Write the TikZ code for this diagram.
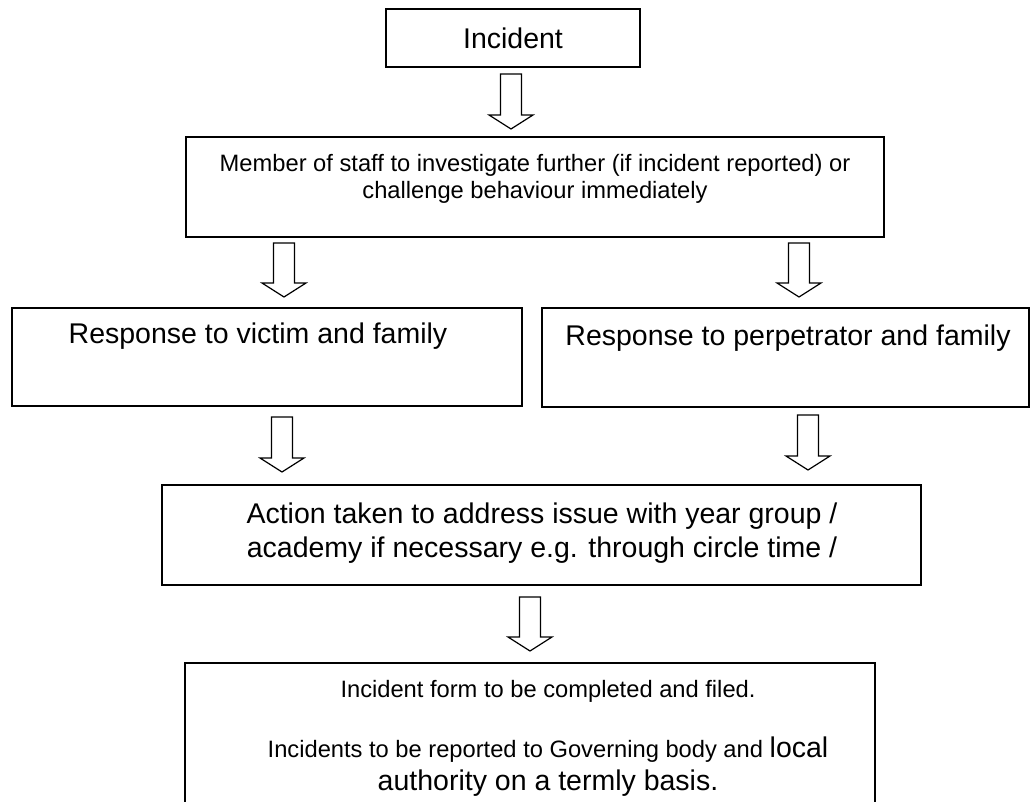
\documentclass[tikz,border=0pt]{standalone}
\usepackage{fontspec}
\setmainfont{Liberation Sans}
\usetikzlibrary{calc}
\tikzset{
 box/.style={draw=black, line width=1.5pt, inner sep=0pt, outer sep=0pt, anchor=north west},
 bigtxt/.style={font=\fontsize{28.5}{33}\selectfont, inner sep=0pt, anchor=base},
 smalltxt/.style={font=\fontsize{23.7}{27}\selectfont, inner sep=0pt, anchor=base},
 arrowline/.style={draw=black, line width=1.2pt, line join=miter, fill=white}
}
\newcommand\blockarrow[2]{\path[arrowline] let \p1=(#1), \p2=(#2) in (\x1-10.5pt,\y1) -- (\x1+10.5pt,\y1) -- (\x1+10.5pt,\y2+14pt) -- (\x1+22pt,\y2+14pt) -- (\x1,\y2) -- (\x1-22pt,\y2+14pt) -- (\x1-10.5pt,\y2+14pt) -- cycle;}
\begin{document}
\begin{tikzpicture}[x=1pt,y=-1pt]
\useasboundingbox (0,0) rectangle (1030,802);
\fill[white] (0,0) rectangle (1030,802);
\clip (0,0) rectangle (1030,802);
% boxes
\node[box, minimum width=254pt, minimum height=58pt] (b1) at (386,9) {};
\node[box, minimum width=698pt, minimum height=100pt] (b2) at (186,137) {};
\node[box, minimum width=510pt, minimum height=98pt] (b3) at (12,308) {};
\node[box, minimum width=487pt, minimum height=99pt] (b4) at (542,308) {};
\node[box, minimum width=759pt, minimum height=100pt] (b5) at (162,485) {};
\node[box, minimum width=690pt, minimum height=170pt] (b6) at (185,663) {};
% texts
\node[bigtxt] (t1) at (513,49) {Incident};
\node[smalltxt] (t2a) at (535,172) {Member of staff to investigate further (if incident reported) or};
\node[smalltxt] (t2b) at (535,199) {challenge behaviour immediately};
\node[bigtxt] (t3) at (258,343) {Response to victim and family};
\node[bigtxt] (t4) at (788,345) {Response to perpetrator and family};
\node[bigtxt] (t5a) at (542,523) {Action taken to address issue with year group /};
\node[bigtxt] (t5b) at (542,557) {academy if necessary e.g. through circle time /};
\node[smalltxt] (t6a) at (548,697) {Incident form to be completed and filed.};
\node[smalltxt] (t6b) at (548,757) {Incidents to be reported to Governing body and {\fontsize{28.5}{33}\selectfont local}};
\node[bigtxt] (t6c) at (548,790) {authority on a termly basis.};
% arrow end points
\coordinate (a1s) at (511,74);  \coordinate (a1e) at (511,129);
\coordinate (a2ls) at (284,243); \coordinate (a2le) at (284,297);
\coordinate (a2rs) at (799,243); \coordinate (a2re) at (799,297);
\coordinate (a3ls) at (282,417); \coordinate (a3le) at (282,472);
\coordinate (a3rs) at (808,415); \coordinate (a3re) at (808,470);
\coordinate (a4s) at (530,597);  \coordinate (a4e) at (530,651);
\blockarrow{a1s}{a1e}
\blockarrow{a2ls}{a2le}
\blockarrow{a2rs}{a2re}
\blockarrow{a3ls}{a3le}
\blockarrow{a3rs}{a3re}
\blockarrow{a4s}{a4e}
\end{tikzpicture}
\end{document}
